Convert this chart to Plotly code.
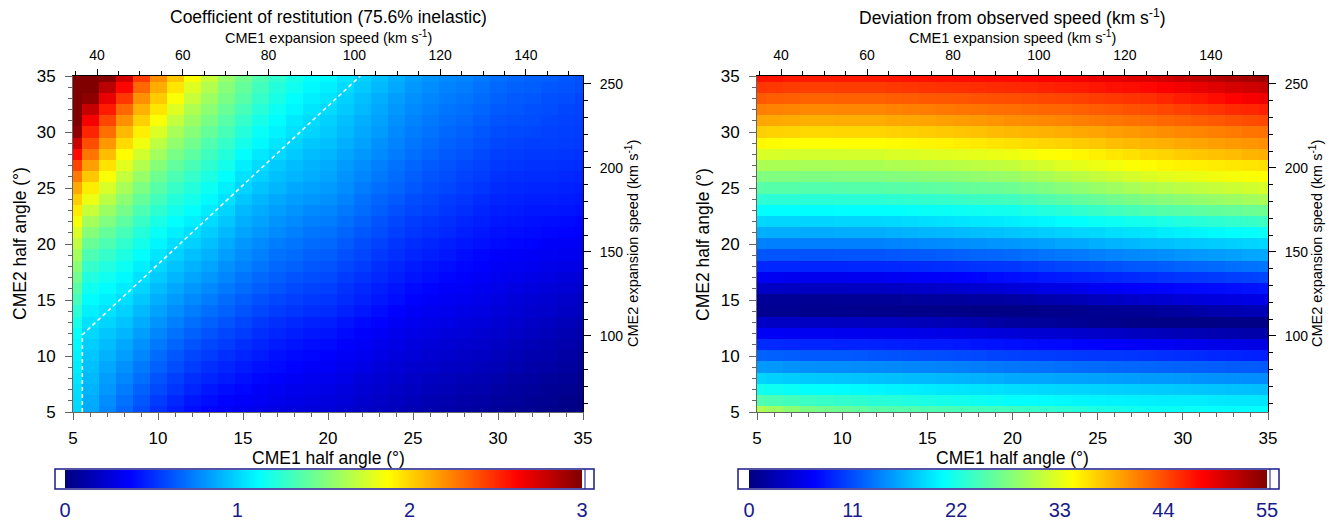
import plotly.graph_objects as go

W, H = 1340, 523

# ---------------- data ----------------
cme1_half_angle = [5, 6, 7, 8, 9, 10, 11, 12, 13, 14, 15, 16, 17, 18, 19, 20,
                   21, 22, 23, 24, 25, 26, 27, 28, 29, 30, 31, 32, 33, 34, 35]
cme2_half_angle = [5, 6, 7, 8, 9, 10, 11, 12, 13, 14, 15, 16, 17, 18, 19, 20,
                   21, 22, 23, 24, 25, 26, 27, 28, 29, 30, 31, 32, 33, 34, 35]

# coefficient of restitution: one list per CME1 half angle (values over CME2 half angle 5..35)
restitution_by_cme1 = [
    [1.01,1.02,1.03,1.05,1.07,1.09,1.11,1.14,1.19,1.25,1.32,1.39,1.46,1.53,1.61,1.69,1.77,1.85,1.93,2.02,2.13,2.27,2.43,2.6,2.78,2.95,3.1,3.25,3.4,3.55,3.7],
    [0.87,0.88,0.9,0.92,0.94,0.96,0.98,1.01,1.04,1.08,1.12,1.17,1.22,1.28,1.35,1.43,1.52,1.61,1.71,1.82,1.93,2.04,2.16,2.28,2.4,2.52,2.65,2.8,2.96,3.12,3.28],
    [0.77,0.79,0.82,0.84,0.87,0.9,0.93,0.96,1.0,1.04,1.08,1.12,1.17,1.22,1.28,1.35,1.42,1.5,1.58,1.67,1.76,1.86,1.96,2.07,2.18,2.3,2.42,2.55,2.69,2.83,2.98],
    [0.68,0.71,0.74,0.77,0.8,0.84,0.87,0.91,0.95,0.99,1.03,1.07,1.11,1.16,1.21,1.27,1.33,1.4,1.47,1.54,1.62,1.7,1.79,1.88,1.98,2.08,2.2,2.32,2.46,2.61,2.76],
    [0.6,0.63,0.66,0.7,0.73,0.77,0.8,0.84,0.88,0.92,0.96,1.0,1.04,1.08,1.13,1.18,1.23,1.29,1.35,1.42,1.49,1.57,1.65,1.74,1.83,1.92,2.01,2.1,2.2,2.32,2.45],
    [0.52,0.55,0.59,0.62,0.66,0.69,0.73,0.77,0.81,0.85,0.89,0.93,0.97,1.01,1.05,1.1,1.15,1.2,1.26,1.32,1.38,1.45,1.52,1.6,1.68,1.77,1.86,1.95,2.03,2.12,2.21],
    [0.46,0.49,0.53,0.56,0.6,0.63,0.67,0.71,0.75,0.79,0.83,0.87,0.91,0.95,0.99,1.03,1.08,1.13,1.18,1.23,1.29,1.35,1.41,1.48,1.55,1.62,1.7,1.78,1.86,1.95,2.04],
    [0.41,0.44,0.48,0.51,0.55,0.58,0.62,0.66,0.7,0.74,0.78,0.82,0.86,0.9,0.94,0.99,1.03,1.08,1.13,1.18,1.23,1.28,1.34,1.4,1.46,1.52,1.58,1.64,1.71,1.78,1.86],
    [0.38,0.41,0.44,0.48,0.51,0.55,0.58,0.62,0.66,0.7,0.74,0.78,0.82,0.86,0.9,0.94,0.98,1.02,1.07,1.11,1.16,1.21,1.26,1.31,1.36,1.42,1.48,1.54,1.59,1.65,1.71],
    [0.35,0.38,0.41,0.45,0.48,0.51,0.55,0.58,0.62,0.66,0.69,0.73,0.77,0.8,0.84,0.88,0.92,0.96,1.0,1.04,1.08,1.13,1.18,1.23,1.28,1.33,1.38,1.43,1.48,1.52,1.57],
    [0.33,0.36,0.39,0.42,0.45,0.48,0.51,0.55,0.58,0.62,0.65,0.69,0.72,0.76,0.79,0.82,0.86,0.89,0.92,0.96,1.0,1.04,1.08,1.13,1.18,1.23,1.28,1.33,1.38,1.42,1.46],
    [0.31,0.34,0.36,0.39,0.42,0.45,0.48,0.51,0.54,0.58,0.61,0.65,0.68,0.72,0.75,0.78,0.82,0.85,0.88,0.91,0.95,0.99,1.02,1.06,1.11,1.15,1.19,1.24,1.28,1.32,1.36],
    [0.29,0.32,0.34,0.37,0.40,0.42,0.45,0.48,0.51,0.55,0.58,0.62,0.65,0.68,0.71,0.74,0.78,0.81,0.84,0.87,0.91,0.94,0.97,1.01,1.05,1.09,1.12,1.16,1.2,1.23,1.27],
    [0.28,0.30,0.32,0.35,0.38,0.40,0.43,0.46,0.49,0.53,0.56,0.59,0.62,0.66,0.69,0.72,0.75,0.78,0.81,0.84,0.87,0.91,0.93,0.97,1.0,1.04,1.06,1.1,1.13,1.17,1.2],
    [0.27,0.29,0.31,0.33,0.36,0.39,0.41,0.44,0.47,0.51,0.54,0.57,0.60,0.63,0.66,0.69,0.72,0.75,0.78,0.82,0.85,0.88,0.9,0.93,0.96,1.0,1.02,1.05,1.08,1.11,1.14],
    [0.26,0.28,0.3,0.32,0.35,0.375,0.4,0.43,0.46,0.5,0.53,0.56,0.59,0.62,0.65,0.68,0.71,0.74,0.77,0.8,0.83,0.86,0.88,0.91,0.94,0.97,0.99,1.02,1.05,1.08,1.11],
    [0.24,0.26,0.28,0.30,0.32,0.35,0.37,0.40,0.43,0.47,0.50,0.52,0.55,0.58,0.61,0.64,0.67,0.70,0.73,0.76,0.79,0.81,0.83,0.86,0.89,0.92,0.94,0.97,0.99,1.02,1.05],
    [0.21,0.23,0.25,0.27,0.30,0.33,0.35,0.37,0.40,0.44,0.47,0.49,0.52,0.55,0.58,0.60,0.63,0.66,0.69,0.71,0.74,0.77,0.79,0.82,0.85,0.87,0.89,0.92,0.94,0.97,0.99],
    [0.19,0.21,0.23,0.25,0.27,0.30,0.32,0.35,0.38,0.41,0.44,0.46,0.49,0.51,0.54,0.57,0.60,0.62,0.65,0.67,0.70,0.73,0.75,0.78,0.80,0.83,0.85,0.87,0.89,0.92,0.94],
    [0.17,0.19,0.21,0.23,0.25,0.28,0.30,0.32,0.35,0.38,0.41,0.43,0.46,0.48,0.51,0.53,0.56,0.58,0.61,0.64,0.67,0.69,0.71,0.74,0.76,0.78,0.80,0.82,0.84,0.87,0.89],
    [0.15,0.17,0.19,0.21,0.23,0.26,0.28,0.3,0.33,0.35,0.38,0.4,0.43,0.45,0.48,0.5,0.53,0.55,0.58,0.6,0.63,0.65,0.67,0.7,0.72,0.74,0.76,0.78,0.8,0.82,0.84],
    [0.13,0.15,0.17,0.19,0.22,0.24,0.26,0.29,0.31,0.33,0.36,0.38,0.41,0.43,0.46,0.48,0.51,0.53,0.56,0.58,0.60,0.62,0.64,0.67,0.69,0.71,0.73,0.75,0.77,0.79,0.81],
    [0.12,0.14,0.16,0.18,0.20,0.23,0.25,0.27,0.30,0.32,0.34,0.36,0.39,0.41,0.44,0.46,0.49,0.51,0.53,0.55,0.58,0.60,0.62,0.64,0.66,0.68,0.70,0.72,0.74,0.76,0.78],
    [0.10,0.12,0.14,0.16,0.19,0.21,0.23,0.26,0.28,0.30,0.33,0.35,0.37,0.39,0.41,0.44,0.46,0.48,0.51,0.53,0.55,0.57,0.59,0.62,0.64,0.66,0.68,0.70,0.72,0.74,0.76],
    [0.09,0.11,0.13,0.15,0.17,0.20,0.22,0.24,0.27,0.29,0.31,0.33,0.35,0.37,0.39,0.42,0.44,0.46,0.48,0.50,0.53,0.55,0.57,0.59,0.61,0.63,0.65,0.67,0.69,0.71,0.73],
    [0.07,0.09,0.11,0.13,0.16,0.18,0.2,0.23,0.25,0.27,0.29,0.31,0.33,0.35,0.37,0.4,0.42,0.44,0.46,0.48,0.5,0.52,0.54,0.56,0.58,0.6,0.62,0.64,0.66,0.68,0.7],
    [0.06,0.08,0.09,0.11,0.14,0.16,0.18,0.21,0.23,0.25,0.27,0.29,0.32,0.34,0.36,0.39,0.41,0.43,0.45,0.47,0.49,0.51,0.53,0.55,0.57,0.59,0.61,0.63,0.64,0.66,0.68],
    [0.05,0.06,0.08,0.10,0.12,0.14,0.16,0.19,0.21,0.23,0.25,0.28,0.30,0.33,0.35,0.38,0.40,0.42,0.44,0.46,0.48,0.50,0.52,0.54,0.56,0.58,0.60,0.61,0.63,0.65,0.66],
    [0.03,0.05,0.06,0.08,0.11,0.13,0.15,0.17,0.19,0.22,0.24,0.26,0.29,0.31,0.34,0.36,0.39,0.41,0.44,0.46,0.48,0.50,0.52,0.54,0.56,0.57,0.58,0.60,0.61,0.63,0.65],
    [0.02,0.03,0.05,0.07,0.09,0.11,0.13,0.15,0.17,0.20,0.22,0.25,0.27,0.30,0.33,0.35,0.38,0.40,0.43,0.45,0.47,0.49,0.51,0.53,0.55,0.56,0.57,0.58,0.60,0.62,0.63],
    [0.01,0.02,0.03,0.05,0.07,0.09,0.11,0.13,0.15,0.18,0.2,0.23,0.26,0.29,0.32,0.34,0.37,0.39,0.42,0.44,0.46,0.48,0.5,0.52,0.54,0.55,0.56,0.57,0.58,0.6,0.61],
]

# deviation from observed speed (km/s): one list per CME2 half angle (values over CME1 half angle 5..35)
deviation_by_cme2 = [
    [30.0,29.1,28.1,27.2,26.7,26.3,25.8,25.3,25.1,25.0,24.8,24.6,24.4,24.3,24.1,23.9,23.6,23.2,22.9,22.5,22.2,21.9,21.5,21.2,21.1,21.1,21.0,20.9,20.8,20.7,20.6],
    [25.0,24.6,24.2,23.8,23.6,23.3,23.1,22.8,22.6,22.3,22.1,21.8,21.6,21.3,21.1,20.8,20.7,20.5,20.4,20.2,20.1,20.0,19.9,19.8,19.7,19.7,19.6,19.5,19.4,19.4,19.3],
    [21.5,21.3,21.0,20.8,20.7,20.5,20.4,20.2,20.0,19.8,19.6,19.4,19.3,19.1,19.0,18.8,18.7,18.6,18.4,18.3,18.2,18.1,18.0,17.9,17.8,17.6,17.5,17.4,17.3,17.2,17.1],
    [18.3,18.1,17.9,17.7,17.6,17.5,17.4,17.3,17.2,17.0,16.9,16.7,16.5,16.4,16.2,16.0,15.9,15.8,15.7,15.6,15.5,15.4,15.3,15.2,15.1,15.0,14.8,14.7,14.6,14.5,14.4],
    [15.2,15.0,14.8,14.6,14.5,14.5,14.4,14.3,14.2,14.1,14.0,13.9,13.7,13.6,13.4,13.2,13.1,13.0,12.8,12.7,12.6,12.5,12.4,12.3,12.2,12.1,12.0,11.9,11.8,11.8,11.7],
    [12.2,12.0,11.9,11.7,11.6,11.6,11.5,11.4,11.3,11.2,11.1,11.0,10.8,10.7,10.5,10.3,10.2,10.1,10.0,9.9,9.8,9.8,9.7,9.6,9.4,9.3,9.1,8.9,8.8,8.6,8.5],
    [9.2,9.1,8.9,8.8,8.8,8.7,8.7,8.6,8.5,8.4,8.3,8.2,8.1,7.9,7.8,7.6,7.5,7.3,7.2,7.0,6.8,6.7,6.5,6.3,6.2,6.0,5.9,5.7,5.6,5.4,5.3],
    [6.5,6.4,6.3,6.2,6.2,6.1,6.1,6.0,5.9,5.8,5.7,5.6,5.4,5.2,5.0,4.8,4.6,4.5,4.3,4.1,3.9,3.8,3.6,3.4,3.2,3.0,2.8,2.6,2.5,2.3,2.2],
    [3.8,3.7,3.7,3.6,3.6,3.5,3.5,3.4,3.3,3.2,3.1,3.0,2.7,2.4,2.0,1.7,1.5,1.4,1.2,1.0,0.8,0.7,0.5,0.3,0.3,0.3,0.2,0.2,0.3,0.3,0.4],
    [1.0,0.9,0.9,0.8,0.8,0.8,0.7,0.7,0.7,0.6,0.6,0.5,0.5,0.4,0.4,0.3,0.4,0.6,0.7,0.8,0.9,1.0,1.1,1.2,1.5,1.8,2.1,2.4,2.6,2.8,3.0],
    [1.3,1.2,1.2,1.1,1.1,1.2,1.2,1.2,1.3,1.4,1.5,1.6,1.7,1.8,1.8,1.9,2.2,2.5,2.7,3.0,3.3,3.6,3.9,4.2,4.4,4.7,4.9,5.1,5.2,5.4,5.5],
    [3.8,3.7,3.6,3.5,3.5,3.5,3.6,3.6,3.7,3.8,3.9,4.0,4.2,4.4,4.6,4.8,5.1,5.4,5.6,5.9,6.2,6.5,6.7,7.0,7.1,7.2,7.3,7.4,7.6,7.8,8.0],
    [6.3,6.2,6.1,6.0,6.0,6.0,6.1,6.1,6.2,6.4,6.5,6.6,6.9,7.1,7.4,7.6,7.8,8.1,8.3,8.5,8.7,8.9,9.1,9.3,9.5,9.7,9.8,10.0,10.2,10.4,10.6],
    [9.0,8.9,8.9,8.8,8.8,8.8,8.9,8.9,9.0,9.1,9.2,9.3,9.4,9.6,9.7,9.8,10.1,10.3,10.6,10.8,11.0,11.3,11.5,11.7,11.9,12.2,12.4,12.6,12.8,13.0,13.2],
    [11.5,11.4,11.4,11.3,11.3,11.4,11.4,11.4,11.5,11.7,11.8,11.9,12.1,12.3,12.4,12.6,12.8,13.1,13.3,13.5,13.7,14.0,14.2,14.4,14.6,14.9,15.1,15.3,15.5,15.8,16.0],
    [13.9,13.8,13.8,13.7,13.7,13.8,13.8,13.8,14.0,14.1,14.3,14.4,14.6,14.7,14.9,15.0,15.3,15.5,15.8,16.0,16.3,16.6,16.8,17.1,17.3,17.5,17.7,17.9,18.1,18.3,18.5],
    [16.3,16.2,16.2,16.1,16.1,16.2,16.2,16.2,16.4,16.5,16.7,16.8,17.0,17.2,17.3,17.5,17.7,18.0,18.2,18.4,18.6,18.9,19.1,19.3,19.6,19.9,20.1,20.4,20.7,20.9,21.2],
    [18.5,18.4,18.4,18.3,18.3,18.4,18.4,18.4,18.6,18.7,18.9,19.0,19.2,19.4,19.5,19.7,20.0,20.2,20.5,20.7,21.0,21.2,21.5,21.7,22.0,22.4,22.7,23.0,23.3,23.6,23.9],
    [20.7,20.6,20.6,20.5,20.5,20.6,20.6,20.6,20.7,20.9,21.0,21.1,21.2,21.4,21.5,21.6,22.0,22.4,22.8,23.2,23.6,24.1,24.5,24.9,25.2,25.4,25.7,25.9,26.1,26.4,26.6],
    [23.0,22.9,22.9,22.8,22.8,22.9,22.9,22.9,23.1,23.2,23.4,23.5,23.7,23.9,24.0,24.2,24.6,25.1,25.5,25.9,26.3,26.8,27.2,27.6,27.9,28.2,28.5,28.8,29.1,29.5,29.8],
    [25.3,25.2,25.2,25.1,25.1,25.2,25.2,25.2,25.4,25.5,25.7,25.8,26.0,26.2,26.3,26.5,27.0,27.4,27.9,28.3,28.8,29.2,29.7,30.1,30.4,30.7,31.0,31.3,31.6,31.9,32.2],
    [27.6,27.5,27.5,27.4,27.4,27.5,27.5,27.5,27.7,27.8,28.0,28.1,28.3,28.5,28.7,28.9,29.4,29.8,30.3,30.7,31.2,31.6,32.1,32.5,32.8,33.1,33.3,33.6,33.9,34.1,34.4],
    [29.9,29.8,29.8,29.7,29.7,29.8,29.8,29.8,30.0,30.1,30.3,30.4,30.6,30.8,31.0,31.2,31.7,32.1,32.6,33.0,33.4,33.8,34.2,34.6,34.8,35.0,35.2,35.4,35.6,35.8,36.0],
    [32.3,32.2,32.1,32.0,32.0,32.1,32.1,32.1,32.3,32.4,32.6,32.7,32.9,33.1,33.3,33.5,33.8,34.2,34.5,34.8,35.2,35.6,36.0,36.4,36.7,37.1,37.4,37.7,38.0,38.4,38.7],
    [34.7,34.6,34.4,34.3,34.3,34.4,34.4,34.4,34.6,34.7,34.9,35.0,35.3,35.5,35.8,36.0,36.3,36.6,36.8,37.1,37.4,37.8,38.1,38.4,38.7,39.0,39.3,39.6,39.9,40.1,40.4],
    [37.0,36.8,36.7,36.5,36.5,36.6,36.6,36.6,36.8,36.9,37.1,37.3,37.5,37.7,38.0,38.2,38.4,38.6,38.8,39.0,39.3,39.6,39.9,40.2,40.5,40.8,41.0,41.3,41.5,41.8,42.0],
    [39.2,39.0,38.9,38.7,38.7,38.8,38.8,38.8,39.0,39.1,39.3,39.5,39.7,39.9,40.2,40.4,40.6,40.8,41.0,41.2,41.5,41.7,42.0,42.2,42.5,42.8,43.1,43.4,43.7,44.0,44.3],
    [41.3,41.1,41.0,40.8,40.8,40.9,40.9,40.9,41.1,41.3,41.4,41.6,41.8,41.9,42.1,42.2,42.4,42.6,42.7,42.9,43.2,43.4,43.7,43.9,44.3,44.7,45.0,45.4,45.8,46.1,46.5],
    [43.3,43.1,43.0,42.8,42.8,42.9,42.9,42.9,43.1,43.2,43.4,43.5,43.6,43.7,43.8,43.9,44.1,44.3,44.4,44.6,44.9,45.1,45.4,45.6,46.1,46.6,47.0,47.5,48.0,48.5,49.0],
    [45.2,45.1,44.9,44.8,44.8,44.9,44.9,44.9,45.1,45.2,45.4,45.5,45.6,45.7,45.8,45.9,46.1,46.3,46.5,46.7,47.0,47.3,47.5,47.8,48.3,48.8,49.3,49.8,50.3,50.7,51.2],
    [47.2,47.1,46.9,46.8,46.8,46.9,46.9,46.9,47.0,47.1,47.2,47.3,47.4,47.5,47.6,47.7,48.0,48.3,48.5,48.8,49.2,49.5,49.9,50.2,50.7,51.2,51.7,52.2,52.6,53.1,53.5],
]

# e = 1 boundary (dashed line) in half-angle space
elastic_cme1_angle = [5.55, 5.55, 21.9]
elastic_cme2_angle = [5.0, 11.9, 35.0]

angle_range = [5, 35]
cme1_speed_range = [34.4, 153.3]
cme2_speed_range = [54.7, 254.7]
angle_ticks = [5, 10, 15, 20, 25, 30, 35]
cme1_speed_ticks = [40, 60, 80, 100, 120, 140]
cme2_speed_ticks = [100, 150, 200, 250]
restitution_ticks = [0, 1, 2, 3]
deviation_ticks = [0, 11, 22, 33, 44, 55]

# ---------------- style ----------------
FONT = "Liberation Sans, Arial, Helvetica, sans-serif"
NAVY = "#1a1a8a"
GREY = "#666666"
jet = [[0.0, "rgb(0,0,128)"], [0.125, "rgb(0,0,255)"], [0.375, "rgb(0,255,255)"],
       [0.625, "rgb(255,255,0)"], [0.875, "rgb(255,0,0)"], [1.0, "rgb(128,0,0)"]]


def fx(px):
    return px / W


def fy(px):
    return 1 - px / H


panels = [
    dict(x0=73, x1=583, cb0=65, cb1=582, fr0=55, fr1=594),
    dict(x0=757, x1=1268, cb0=749, cb1=1267, fr0=738, fr1=1279),
]
PY0, PY1 = 76, 412
CB_TOP = 470


def colorbar(p, ticks):
    return dict(orientation="h", x=fx((p["cb0"] + p["cb1"]) / 2), xanchor="center",
                y=fy(CB_TOP), yanchor="top", len=p["cb1"] - p["cb0"], lenmode="pixels",
                thickness=18, thicknessmode="pixels", xpad=0, ypad=0,
                outlinewidth=0, tickvals=ticks, ticks="outside",
                ticklen=5, tickcolor="rgba(0,0,0,0)",
                tickfont=dict(family=FONT, size=20, color=NAVY))


fig = go.Figure()

fig.add_trace(go.Heatmap(
    x=cme1_half_angle, y=cme2_half_angle, z=restitution_by_cme1, transpose=True,
    colorscale=jet, zmin=0, zmax=3, xaxis="x", yaxis="y", hoverinfo="skip",
    colorbar=colorbar(panels[0], restitution_ticks),
))
fig.add_trace(go.Scatter(
    x=elastic_cme1_angle, y=elastic_cme2_angle, mode="lines", xaxis="x", yaxis="y",
    line=dict(color="white", width=1.5, dash="4px,3px"), hoverinfo="skip",
))
fig.add_trace(go.Heatmap(
    x=cme1_half_angle, y=cme2_half_angle, z=deviation_by_cme2,
    colorscale=jet, zmin=0, zmax=55, xaxis="x2", yaxis="y2", hoverinfo="skip",
    colorbar=colorbar(panels[1], deviation_ticks),
))
# empty traces that carry the secondary (speed) axes
fig.add_trace(go.Scatter(x=[], y=[], xaxis="x3", yaxis="y3", hoverinfo="skip"))
fig.add_trace(go.Scatter(x=[], y=[], xaxis="x4", yaxis="y4", hoverinfo="skip"))

layout = dict(
    template="none",
    width=W, height=H, autosize=False,
    margin=dict(l=0, r=0, t=0, b=0, autoexpand=False),
    paper_bgcolor="white", plot_bgcolor="white", showlegend=False,
    font=dict(family=FONT, color="black"),
)

for i, p in enumerate(panels):
    xid = "x" if i == 0 else "x2"
    yid = "y" if i == 0 else "y2"
    xa = "xaxis" if i == 0 else "xaxis2"
    ya = "yaxis" if i == 0 else "yaxis2"
    common = dict(range=angle_range, tickvals=angle_ticks, ticks="outside", ticklen=7,
                  tickcolor=GREY, tickwidth=1, showline=True, linecolor=GREY, linewidth=1,
                  showgrid=False, zeroline=False, automargin=False,
                  minor=dict(ticks="outside", dtick=1, tick0=5, ticklen=4,
                             tickcolor=GREY, showgrid=False),
                  tickfont=dict(size=17))
    layout[xa] = dict(domain=[fx(p["x0"]), fx(p["x1"])], anchor=yid,
                      ticklabelstandoff=4, **common)
    layout[ya] = dict(domain=[fy(PY1), fy(PY0)], anchor=xid,
                      ticklabelstandoff=6, **common)
    top = "xaxis%d" % (3 + i)
    right = "yaxis%d" % (3 + i)
    layout[top] = dict(
        overlaying=xid, side="top", anchor=yid, range=cme1_speed_range,
        tickvals=cme1_speed_ticks, ticks="outside", ticklen=6, tickcolor="black",
        tickwidth=1, showline=True, linecolor="black", linewidth=1, showgrid=False,
        zeroline=False, automargin=False,
        minor=dict(ticks="outside", dtick=5, tick0=0, ticklen=4, tickcolor="black",
                   showgrid=False),
        tickfont=dict(size=14), ticklabelstandoff=3,
    )
    layout[right] = dict(
        overlaying=yid, side="right", anchor=xid, range=cme2_speed_range,
        tickvals=cme2_speed_ticks, ticks="outside", ticklen=7, tickcolor="black",
        tickwidth=1, showline=True, linecolor="black", linewidth=1, showgrid=False,
        zeroline=False, automargin=False,
        minor=dict(ticks="outside", dtick=10, tick0=0, ticklen=4, tickcolor="black",
                   showgrid=False),
        tickfont=dict(size=14), ticklabelstandoff=6,
    )

fig.update_layout(**layout)

titles = ["Coefficient of restitution (75.6% inelastic)",
          "Deviation from observed speed (km s<sup>-1</sup>)"]
left_title_x = [20, 703]
right_title_x = [632, 1316]
ann = []
shapes = []
for i, p in enumerate(panels):
    cx = fx((p["x0"] + p["x1"]) / 2)
    cy = fy((PY0 + PY1) / 2)
    ann.append(dict(text=titles[i], x=cx, y=fy(17), xref="paper", yref="paper",
                    xanchor="center", yanchor="middle", showarrow=False,
                    font=dict(size=17.5)))
    ann.append(dict(text="CME1 expansion speed (km s<sup>-1</sup>)", x=cx, y=fy(37),
                    xref="paper", yref="paper", xanchor="center", yanchor="middle",
                    showarrow=False, font=dict(size=14.5)))
    ann.append(dict(text="CME1 half angle (°)", x=cx, y=fy(458), xref="paper",
                    yref="paper", xanchor="center", yanchor="middle", showarrow=False,
                    font=dict(size=17.5)))
    ann.append(dict(text="CME2 half angle (°)", x=fx(left_title_x[i]), y=cy, xref="paper",
                    yref="paper", xanchor="center", yanchor="middle", showarrow=False,
                    textangle=-90, font=dict(size=17.5)))
    ann.append(dict(text="CME2 expansion speed (km s<sup>-1</sup>)", x=fx(right_title_x[i]),
                    y=cy, xref="paper", yref="paper", xanchor="center", yanchor="middle",
                    showarrow=False, textangle=-90, font=dict(size=14.5)))
    shapes.append(dict(type="rect", xref="paper", yref="paper",
                       x0=fx(p["fr0"]), x1=fx(p["fr1"]), y0=fy(CB_TOP + 19), y1=fy(CB_TOP - 1),
                       line=dict(color=NAVY, width=1.5)))
    shapes.append(dict(type="line", xref="paper", yref="paper",
                       x0=fx(p["cb1"] + 3), x1=fx(p["cb1"] + 3),
                       y0=fy(CB_TOP + 19), y1=fy(CB_TOP - 1),
                       line=dict(color=NAVY, width=1)))

fig.update_layout(annotations=ann, shapes=shapes)

fig.write_html("out.html")
